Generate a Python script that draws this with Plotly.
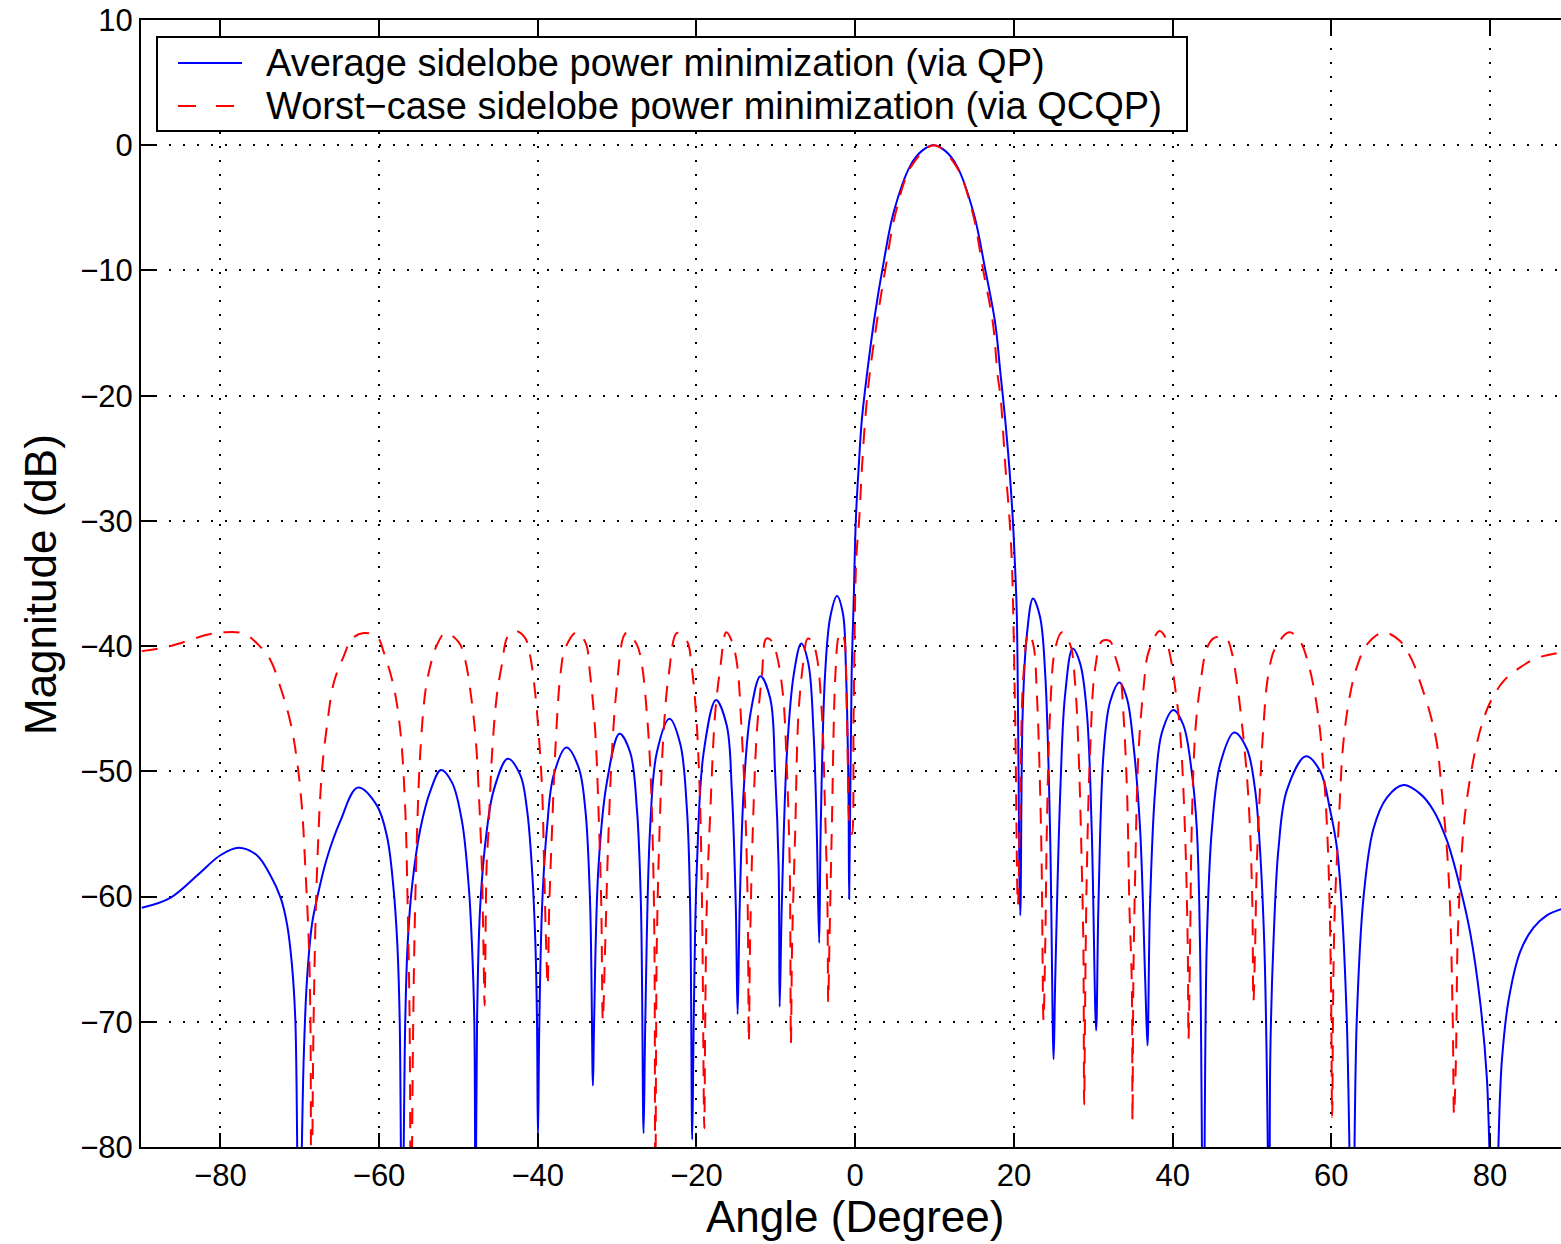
import plotly.graph_objects as go

# ---------------- data ----------------
avg_deg = [
    -89.9, -86.3, -82.9, -80.0, -77.7, -75.4, -73.7, -72.4, -71.6, -71.0, -70.55, -70.1,
    -69.5, -69.1, -68.45, -67.8, -66.6, -64.9, -62.7, -60.3, -59.0, -58.2, -57.7, -57.4, -57.1,
    -56.7, -56.4, -55.85, -54.8, -53.5, -52.2, -50.8, -49.55, -48.7, -48.3, -48.0, -47.85,
    -47.65, -47.25, -46.4, -45.55, -43.8, -42.2, -41.35, -40.75, -40.3, -40.1, -39.98,
    -39.8, -39.45, -38.85, -38.0, -36.4, -34.85, -34.0, -33.4, -33.05,
    -32.9, -32.35, -31.3, -29.7, -28.35, -27.5, -27.0, -26.67,
    -26.45, -25.85, -25.0, -23.4, -22.05, -21.2, -20.8, -20.54,
    -20.35, -19.95, -19.1, -17.55, -16.2, -15.55, -15.05, -14.82,
    -14.55, -14.05, -13.2, -11.95, -10.7, -10.1, -9.65, -9.52,
    -9.25, -8.6, -7.75, -6.8, -5.9, -5.25, -4.85, -4.54,
    -4.35, -3.8, -3.15, -2.3, -1.55, -1.15, -0.85, -0.76,
    -0.45, -0.2, 0.08, 0.42, 0.84, 1.5, 2.52, 3.57, 4.83, 6.93, 8.4, 9.9,
    11.34, 12.81, 14.91, 16.38, 17.64, 18.3, 18.9, 19.44, 19.86, 20.16, 20.37, 20.8,
    21.1, 21.6, 22.4, 23.3, 23.95, 24.55, 25.0,
    25.2, 25.85, 26.45, 27.4, 28.35, 29.2, 29.8, 30.36,
    30.65, 31.3, 32.1, 33.3, 34.25, 35.05, 35.9, 36.55, 36.83,
    37.15, 37.8, 38.65, 40.1, 41.35, 42.4, 43.05, 43.45, 43.88,
    44.3, 44.95, 46.0, 47.75, 49.35, 50.4, 51.0, 51.55, 51.85, 52.2,
    52.3, 52.7, 53.35, 54.4, 56.8, 58.6, 59.85, 60.7, 61.3, 61.95, 62.65,
    63.2, 64.05, 65.3, 67.0, 69.1, 71.2, 72.85, 74.55, 76.2, 77.5, 78.75, 79.6, 80.45,
    81.25, 81.5, 82.3, 83.8, 85.45, 87.15, 88.95,
]
avg_db = [
    -60.9, -60.1, -58.3, -56.7, -56.1, -56.7, -58.3, -60.1, -62.2, -65.3, -69.9, -90,
    -73.0, -66.8, -62.2, -60.1, -57.0, -54.0, -51.3, -52.7, -55.2, -59.2, -63.8, -69.9, -90,
    -69.9, -63.8, -59.2, -54.6, -51.5, -49.9, -50.9, -54.0, -59.2, -63.8, -69.9, -90,
    -69.9, -60.7, -54.6, -51.5, -49.0, -50.3, -53.1, -57.6, -63.8, -69.9, -79.3,
    -69.9, -60.7, -54.6, -50.3, -48.1, -49.7, -53.1, -60.7, -75.1,
    -69.9, -57.6, -50.9, -47.0, -48.5, -53.1, -60.7, -78.9,
    -69.9, -54.6, -48.5, -45.8, -47.8, -53.1, -60.7, -79.4,
    -69.9, -57.6, -48.5, -44.3, -46.3, -51.5, -60.7, -69.4,
    -60.7, -51.5, -45.4, -42.4, -44.2, -50.0, -57.6, -68.8,
    -60.7, -48.5, -42.3, -39.8, -41.4, -46.9, -54.6, -63.7,
    -54.6, -42.3, -37.7, -36.0, -37.4, -42.3, -51.5, -60.2,
    -42.3, -36.6, -29.9, -25.9, -21.9, -18.2, -13.4, -9.4, -5.4, -1.65, -0.45, 0.0,
    -0.45, -1.65, -5.4, -9.9, -14.2, -18.2, -21.9, -25.9, -29.9, -33.9, -37.6, -61.5,
    -45.4, -39.3, -36.2, -37.7, -42.3, -54.6, -73.0,
    -66.8, -51.5, -43.9, -40.2, -41.4, -45.4, -54.6, -70.7,
    -60.7, -48.5, -44.5, -42.9, -44.2, -47.8, -54.6, -66.8, -71.9,
    -60.7, -51.5, -46.9, -45.1, -46.3, -50.0, -54.6, -63.8, -90,
    -63.8, -54.6, -49.4, -46.9, -48.2, -51.5, -56.1, -63.8, -73.0, -90,
    -73.0, -63.8, -56.1, -51.5, -48.8, -50.0, -53.1, -56.1, -60.7, -69.9, -90,
    -69.9, -60.1, -54.6, -52.1, -51.1, -51.8, -53.1, -55.5, -59.2, -62.9, -68.4, -74.5, -90,
    -76.0, -73.0, -68.4, -64.4, -62.5, -61.5, -61.0,
]

wc_deg = [
    -89.9, -86.3, -81.7, -79.6, -77.05, -75.2, -73.7, -72.45, -71.2, -70.35, -69.7, -69.3,
    -68.85, -68.65, -68.54,
    -68.25, -67.8, -67.2, -66.55, -65.7, -64.45, -63.4, -61.95, -60.25, -59.4, -58.15, -57.3,
    -56.7, -56.4, -56.15, -55.98,
    -55.75, -55.55, -55.2, -54.8, -54.15, -53.35, -52.7, -51.65, -49.95, -49.15, -48.5, -47.85,
    -47.45, -47.05, -46.85, -46.7,
    -46.45, -46.2, -45.75, -45.15, -44.5, -43.8, -42.7, -41.55, -40.95, -40.3, -39.9, -39.45,
    -39.2, -38.95, -38.76,
    -38.55, -38.2, -37.8, -37.15, -36.55, -35.15, -34.0, -33.4, -32.75, -32.35, -32.0, -31.8,
    -31.5, -31.15, -30.65, -30.05, -29.2, -28.75, -27.5, -26.9, -26.25, -25.8, -25.5, -25.3, -25.2,
    -25.1, -25.0, -24.65, -24.15, -23.5, -22.45, -21.2, -20.6, -20.05, -19.6, -19.3, -19.02,
    -18.9, -18.7, -18.25, -17.65, -17.0, -16.25, -15.55, -14.9, -14.3, -13.85, -13.55, -13.4,
    -13.25, -12.9, -12.4, -11.75, -11.2, -10.5, -9.85, -9.1, -8.6, -8.25, -8.1,
    -7.95, -7.55, -7.15, -6.5, -6.0, -5.45, -4.85, -4.2, -3.8, -3.5, -3.4,
    -3.25, -2.95, -2.5, -2.1, -1.8, -1.45, -1.05, -0.65, -0.42,
    -0.2, 0.13, 0.5, 0.84, 1.26, 1.8, 2.9, 3.8, 5.1, 7.1, 9.95,
    12.7, 14.8, 16.1, 17.35, 17.95, 18.3, 18.95, 19.45, 19.75, 20.15, 20.5,
    20.8, 21.2, 21.85, 22.45, 22.9, 23.3, 23.5, 23.73,
    23.95, 24.15, 24.55, 25.2, 26.05, 27.1, 27.7, 28.15, 28.55, 28.75, 28.85,
    29.0, 29.2, 29.6, 30.25, 31.1, 32.1, 32.75, 33.4, 33.8, 34.25, 34.55, 34.85, 34.94,
    35.05, 35.3, 35.7, 36.35, 36.95, 38.35, 39.05, 39.7, 40.3, 40.95, 41.55, 41.9, 42.0,
    42.2, 42.4, 42.85, 43.45, 44.3, 45.1, 45.8, 46.8, 47.45, 48.1, 48.7, 49.35, 49.75, 50.05, 50.18,
    50.4, 50.6, 51.0, 51.45, 52.05, 52.9, 54.7, 56.05, 57.1, 57.95, 58.6, 59.2, 59.65, 59.95, 60.1,
    60.25, 60.45, 60.9, 61.5, 62.35, 63.2, 64.45, 66.55, 68.65, 70.15, 71.2, 72.45, 73.3, 73.9,
    74.55, 74.95, 75.3, 75.46,
    75.7, 75.9, 76.2, 76.65, 77.25, 78.1, 78.95, 80.0, 81.7, 83.8, 85.9, 88.95,
]
wc_db = [
    -40.4, -40.0, -39.1, -38.9, -39.0, -39.9, -41.1, -43.25, -46.0, -49.1, -53.05, -57.6,
    -63.8, -69.9, -90,
    -69.9, -57.6, -50.0, -46.3, -42.9, -40.8, -39.4, -38.95, -39.25, -40.5, -43.25, -46.9,
    -53.05, -60.7, -69.9, -90,
    -73.0, -63.8, -54.6, -48.45, -43.55, -41.1, -39.9, -38.95, -39.7, -41.1, -43.55, -47.2,
    -51.5, -57.6, -63.8, -68.7,
    -57.6, -54.6, -48.45, -43.9, -41.4, -39.25, -38.8, -39.4, -40.8, -43.9, -46.9, -51.5,
    -57.6, -63.8, -67.1,
    -60.7, -54.6, -48.45, -42.3, -40.2, -38.9, -39.7, -42.3, -46.9, -53.05, -60.7, -69.9,
    -63.8, -56.1, -48.45, -43.25, -39.25, -38.9, -39.9, -41.4, -45.4, -50.0, -56.1, -63.8, -90,
    -73.0, -63.8, -54.6, -46.9, -42.3, -38.95, -39.6, -41.7, -45.4, -51.5, -60.7, -78.5,
    -69.9, -60.7, -53.05, -45.4, -41.7, -38.9, -39.6, -41.4, -46.9, -53.05, -60.7, -71.6,
    -63.8, -54.6, -46.9, -42.3, -39.4, -39.6, -40.8, -43.9, -50.0, -57.6, -71.7,
    -63.8, -54.6, -45.4, -41.1, -39.4, -39.6, -40.8, -45.4, -53.05, -60.7, -68.4,
    -63.8, -54.6, -42.3, -39.25, -38.9, -39.25, -45.4, -54.6, -55.0,
    -45.4, -33.1, -29.9, -25.9, -21.9, -18.4, -13.4, -9.9, -5.4, -1.65, 0.0,
    -1.65, -5.4, -9.9, -14.2, -18.4, -20.0, -25.9, -29.9, -33.5, -45.4, -60.7,
    -51.5, -42.3, -38.95, -39.9, -43.9, -51.5, -57.6, -69.9,
    -63.8, -54.6, -45.4, -40.2, -38.9, -39.9, -42.9, -48.45, -57.6, -63.8, -76.6,
    -66.8, -57.6, -48.45, -41.7, -39.6, -39.6, -40.8, -42.3, -45.4, -51.5, -60.7, -66.8, -77.9,
    -66.8, -57.6, -48.45, -43.25, -40.5, -38.8, -39.25, -40.8, -43.25, -46.9, -54.6, -63.8, -71.4,
    -63.8, -54.6, -46.9, -43.25, -40.2, -39.4, -39.25, -39.4, -40.5, -42.9, -46.0, -50.3, -54.6, -60.7, -68.4,
    -63.8, -57.6, -51.5, -46.3, -42.3, -40.2, -38.9, -39.6, -41.4, -43.9, -46.9, -51.5, -57.6, -66.8, -77.6,
    -66.8, -60.7, -54.6, -47.8, -43.9, -41.7, -39.9, -38.9, -39.6, -41.1, -42.9, -45.4, -47.8, -51.5,
    -56.1, -60.7, -69.9, -77.4,
    -73.0, -63.8, -59.2, -54.6, -51.5, -48.45, -46.3, -44.5, -42.8, -41.7, -40.95, -40.5,
]

x_ticks = [-80, -60, -40, -20, 0, 20, 40, 60, 80]
y_ticks = [-80, -70, -60, -50, -40, -30, -20, -10, 0, 10]
legend_labels = [
    "Average sidelobe power minimization (via QP)",
    "Worst\u2212case sidelobe power minimization (via QCQP)",
]
x_title = "Angle (Degree)"
y_title = "Magnitude (dB)"

# ---------------- figure ----------------
W, H = 1561, 1244
L, R, T, B = 141, 0, 20, 97
pw, ph = W - L - R, H - T - B

def px(xp):
    return (xp - L) / pw

def py(yp):
    return (H - B - yp) / ph

FONT = "Liberation Sans, Arial, Helvetica, sans-serif"

fig = go.Figure()
fig.add_trace(go.Scatter(x=avg_deg, y=avg_db, mode="lines", name=legend_labels[0],
                         line=dict(color="#0000FF", width=2, shape="spline", smoothing=1.0),
                         showlegend=False))
fig.add_trace(go.Scatter(x=wc_deg, y=wc_db, mode="lines", name=legend_labels[1],
                         line=dict(color="#FF0000", width=2, dash="16px,12px",
                                   shape="spline", smoothing=1.0),
                         showlegend=False))

axis_common = dict(
    showline=True, linewidth=2, linecolor="black",
    ticks="inside", ticklen=14, tickwidth=1.5, tickcolor="black",
    showgrid=True, gridcolor="black", gridwidth=1.5, griddash="2px,12px",
    zeroline=False, tickfont=dict(family=FONT, size=31, color="black"),
)
fig.update_xaxes(range=[-90, 88.94], tickvals=x_ticks, mirror="ticks", **axis_common)
fig.update_yaxes(range=[-80, 10], tickvals=y_ticks, **axis_common)

# manual legend (MATLAB style)
fig.add_shape(type="rect", xref="paper", yref="paper",
              x0=px(157), x1=px(1187), y0=py(131), y1=py(37),
              line=dict(color="black", width=2), fillcolor="white", layer="above")
fig.add_shape(type="line", xref="paper", yref="paper",
              x0=px(178), x1=px(242), y0=py(63), y1=py(63),
              line=dict(color="#0000FF", width=2), layer="above")
fig.add_shape(type="line", xref="paper", yref="paper",
              x0=px(178), x1=px(242), y0=py(106), y1=py(106),
              line=dict(color="#FF0000", width=2, dash="18px,20px"), layer="above")
for lab, yy in zip(legend_labels, [63, 106]):
    fig.add_annotation(text=lab, xref="paper", yref="paper", x=px(264), y=py(yy),
                       xanchor="left", yanchor="middle", showarrow=False,
                       font=dict(family=FONT, size=38, color="black"))

fig.add_annotation(text=x_title, xref="paper", yref="paper", x=px(855), y=py(1217),
                   xanchor="center", yanchor="middle", showarrow=False,
                   font=dict(family=FONT, size=44, color="black"))
fig.add_annotation(text=y_title, xref="paper", yref="paper", x=px(40), y=py(585),
                   xanchor="center", yanchor="middle", showarrow=False, textangle=-90,
                   font=dict(family=FONT, size=44, color="black"))

fig.update_layout(
    width=W, height=H,
    margin=dict(l=L, r=R, t=T, b=B, pad=0),
    paper_bgcolor="white", plot_bgcolor="white",
    showlegend=False,
)

fig.write_html("out.html",
               config={"displayModeBar": False},
               post_script="document.body.style.margin='0';"
                           "document.body.style.overflow='hidden';")
